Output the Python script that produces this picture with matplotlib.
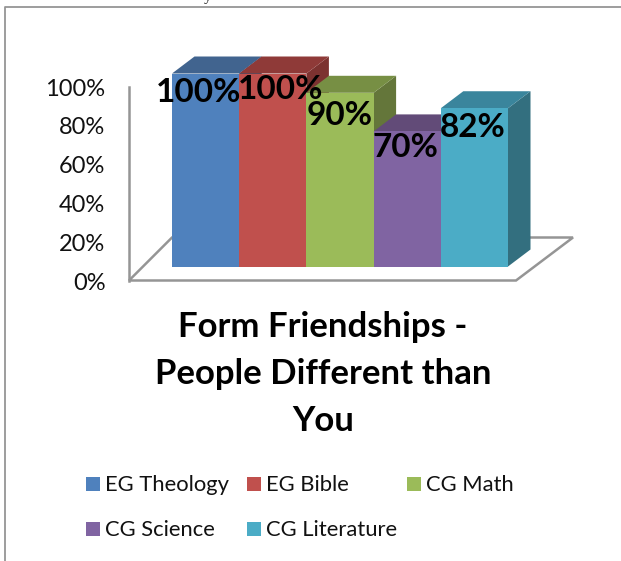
'''
3d looking column chart: Form Friendships - People Different than You
'''
import matplotlib
matplotlib.use('Agg')
import matplotlib.pyplot as plt
from matplotlib.patches import Polygon, Rectangle
from matplotlib.lines import Line2D

categories = ['EG Theology', 'EG Bible', 'CG Math', 'CG Science', 'CG Literature']
values = [100, 100, 90, 70, 82]
value_labels = ['100%', '100%', '90%', '70%', '82%']
yticks = [0, 20, 40, 60, 80, 100]
ytick_labels = ['0%', '20%', '40%', '60%', '80%', '100%']
title = 'Form Friendships -\nPeople Different than\nYou'

front_colors = ['#4f81bd', '#c0504d', '#9bbb59', '#8064a2', '#4bacc6']
top_colors = ['#41648f', '#8f3a38', '#778f44', '#624b78', '#3a859c']
side_colors = ['#365473', '#7c3230', '#64763a', '#523f66', '#336f7f']

W, H = 621, 561
GRAY = '#959595'
plt.rcParams['font.family'] = ['Lato', 'DejaVu Sans']

fig = plt.figure(figsize=(W / 100, H / 100), dpi=100)


def fx(px):
    return px / W


def fy(py):
    return 1 - py / H


# frame of the chart, cut by the page
fig.add_artist(Line2D([fx(4.5), fx(4.5), fx(621)], [fy(561), fy(7), fy(7)], color=GRAY, lw=1.3))
fig.text(fx(208), fy(1), 'y', family='Liberation Serif', fontsize=11, color='#222222', ha='center', va='baseline')

# back wall axis, only for the percent scale
wall = fig.add_axes([fx(129), fy(281), fx(1), 194 / H])
wall.set_ylim(0, 100)
wall.set_xticks([])
wall.set_yticks(yticks, ytick_labels, fontsize=17, color='#111111')
wall.tick_params(axis='y', length=0, pad=17)
for s in ['top', 'right', 'bottom']:
    wall.spines[s].set_visible(False)
wall.spines['left'].set_color(GRAY)
wall.spines['left'].set_linewidth(1.8)
wall.patch.set_alpha(0)

# main axes: x in bars, y in percent, stretched over the whole figure
bar_px = 67.2
pct_px = 1.93
x0_px, y0_px = 172, 266.5
ax = fig.add_axes([0, 0, 1, 1])
ax.set_xlim(-x0_px / bar_px, (W - x0_px) / bar_px)
ax.set_ylim(-(H - y0_px) / pct_px, y0_px / pct_px)
ax.axis('off')
ax.patch.set_alpha(0)

dx = 22.5 / bar_px
dy = 17 / pct_px

# floor
fl = -14 / pct_px
floor = [(-43 / bar_px, fl), (344 / bar_px, fl), (401 / bar_px, fl + 43 / pct_px), (0, fl + 43 / pct_px)]
ax.add_patch(Polygon(floor, closed=True, fc='white', ec=GRAY, lw=1.8, joinstyle='miter'))

for i, v in enumerate(values):
    ax.add_patch(Polygon([(i + 1, 0), (i + 1 + dx, dy), (i + 1 + dx, v + dy), (i + 1, v)],
                         fc=side_colors[i], ec='none', zorder=3 + i))
    ax.add_patch(Polygon([(i, v), (i + dx, v + dy), (i + 1 + dx, v + dy), (i + 1, v)],
                         fc=top_colors[i], ec='none', zorder=3 + i))
    ax.bar(i, v, width=1, align='edge', color=front_colors[i], zorder=3 + i)

# data labels were moved by hand in the original
label_dx = [-0.1, 0.12, 0, -0.03, -0.02]
label_dy = [-10, -8.5, -12, -8.5, -10]
for i, v in enumerate(values):
    ax.text(i + 0.5 + label_dx[i], v + label_dy[i], value_labels[i], fontsize=24, fontweight='bold',
            ha='center', va='center', color='black', zorder=20)

fig.text(fx(323), fy(374), title, fontsize=25, fontweight='bold', ha='center', va='center',
         linespacing=1.56, color='black')

# legend
leg_x = [86, 247, 407, 86, 247]
leg_y = [485, 485, 485, 530, 530]
for name, col, lx, ly in zip(categories, front_colors, leg_x, leg_y):
    fig.add_artist(Rectangle((fx(lx), fy(ly + 6)), 14 / W, 14 / H, transform=fig.transFigure, fc=col, ec='none'))
    fig.text(fx(lx + 19), fy(ly), name, fontsize=15.8, ha='left', va='center', color='#111111')

fig.savefig('out.png', dpi=100)
